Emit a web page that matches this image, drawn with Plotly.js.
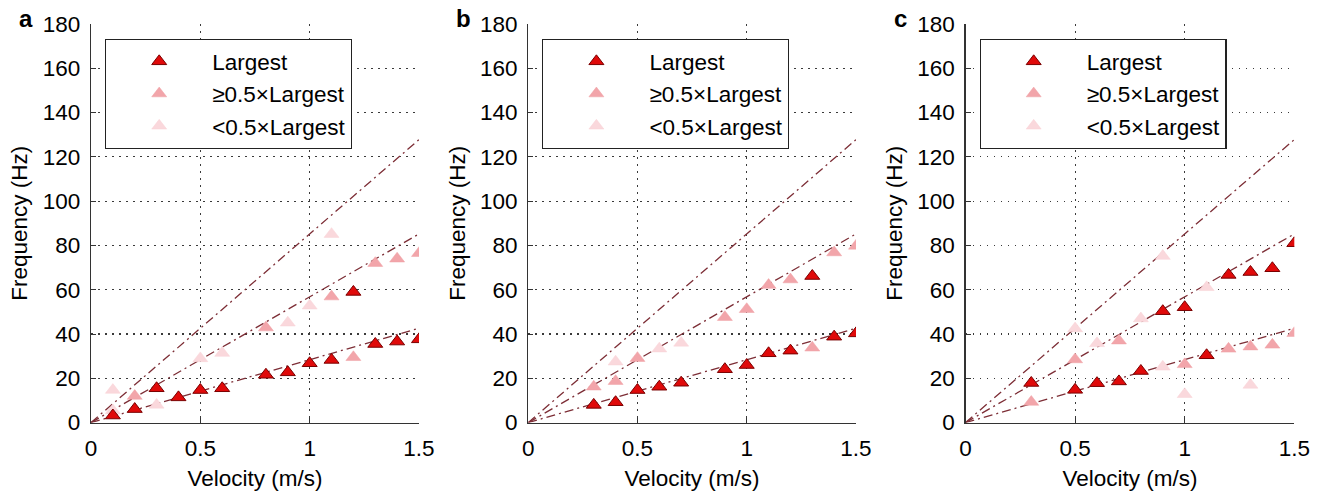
<!DOCTYPE html>
<html>
<head>
<meta charset="utf-8">
<script src="https://cdn.plot.ly/plotly-3.0.1.min.js"></script>
<style>html,body{margin:0;padding:0;background:#fff;}#chart{width:1321px;height:493px;}</style>
</head>
<body>
<div id="chart"></div>
<script>
// ---- data ----
const seriesNames = ['Largest', '\u22650.5\u00d7Largest', '<0.5\u00d7Largest'];
const panelLabels = ['a', 'b', 'c'];
const xTickVals = [0, 0.5, 1, 1.5];
const yTickVals = [0, 20, 40, 60, 80, 100, 120, 140, 160, 180];

// fitted harmonic lines (value at v = 0 and v = 1.5)
const fitX = [0, 1.5];
const fitEndY = [42.6, 85.2, 127.8];

// panel a
const aLargestX = [0.1, 0.2, 0.3, 0.4, 0.5, 0.6, 0.8, 0.9, 1.0, 1.1, 1.2, 1.3, 1.4, 1.5];
const aLargestY = [3.2, 6.1, 15.5, 11.4, 14.7, 15.5, 21.6, 22.7, 26.8, 28.3, 59.0, 35.5, 36.6, 37.6];
const aHalfX = [0.2, 0.8, 1.1, 1.2, 1.3, 1.4, 1.5];
const aHalfY = [12.0, 42.9, 56.9, 29.5, 72.0, 74.0, 76.5];
const aSmallX = [0.1, 0.1, 0.3, 0.5, 0.6, 0.9, 1.0, 1.1];
const aSmallY = [14.7, 5.5, 8.0, 29.0, 31.4, 45.1, 52.8, 85.1];

// panel b
const bLargestX = [0.3, 0.4, 0.5, 0.6, 0.7, 0.9, 1.0, 1.1, 1.2, 1.3, 1.4, 1.5];
const bLargestY = [8.0, 9.2, 14.7, 16.2, 18.0, 24.1, 26.0, 31.3, 32.5, 66.2, 38.8, 40.3];
const bHalfX = [0.3, 0.4, 0.5, 0.9, 1.0, 1.1, 1.2, 1.3, 1.4, 1.5];
const bHalfY = [16.2, 18.7, 29.1, 47.6, 51.2, 62.1, 64.6, 33.8, 76.8, 79.8];
const bSmallX = [0.4, 0.6, 0.7];
const bSmallY = [27.5, 33.4, 36.0];

// panel c
const cLargestX = [0.3, 0.5, 0.6, 0.7, 0.8, 0.9, 1.0, 1.1, 1.2, 1.3, 1.4, 1.5];
const cLargestY = [17.9, 14.8, 17.8, 18.6, 23.3, 50.3, 52.1, 30.4, 66.7, 68.0, 69.7, 81.0];
const cHalfX = [0.3, 0.5, 0.7, 1.0, 1.2, 1.3, 1.4, 1.5];
const cHalfY = [9.3, 28.5, 37.0, 26.3, 33.3, 34.3, 35.1, 40.4];
const cSmallX = [0.5, 0.6, 0.8, 0.9, 0.9, 1.0, 1.1, 1.3];
const cSmallY = [42.5, 35.8, 47.0, 75.2, 25.2, 12.8, 61.1, 17.0];

// ---- styling ----
const FONT = 'Liberation Sans, Arial, Helvetica, sans-serif';
const FS = 22.5;
const W = 1321, H = 493;
const markerStyles = [
  {color: '#e00a0a', line: {color: '#7a0000', width: 1}},
  {color: '#f2a5aa', line: {color: '#eea0a5', width: 0.5}},
  {color: '#fad8dc', line: {color: '#f8d2d6', width: 0.5}}
];
const lineColor = '#7d2e36';
const xPix = [[91, 419], [528.2, 856], [965.5, 1294.3]];
const yPix = [24, 422.6];

const panelData = [
  [[aLargestX, aLargestY], [aHalfX, aHalfY], [aSmallX, aSmallY]],
  [[bLargestX, bLargestY], [bHalfX, bHalfY], [bSmallX, bSmallY]],
  [[cLargestX, cLargestY], [cHalfX, cHalfY], [cSmallX, cSmallY]]
];

const traces = [];
const layout = {
  width: W, height: H,
  margin: {l: 0, r: 0, t: 0, b: 0},
  paper_bgcolor: '#fff', plot_bgcolor: '#fff',
  font: {family: FONT, size: FS, color: '#000'},
  showlegend: true,
  annotations: []
};

panelData.forEach((pd, p) => {
  const sfx = p === 0 ? '' : String(p + 1);
  const xa = 'x' + sfx, ya = 'y' + sfx;
  const legName = 'legend' + sfx;
  // fitted lines
  fitEndY.forEach((yEnd) => {
    traces.push({
      type: 'scatter', mode: 'lines', xaxis: xa, yaxis: ya,
      x: fitX, y: [0, yEnd],
      line: {color: lineColor, width: 1.3, dash: '9px,4px,2px,4px'},
      showlegend: false, hoverinfo: 'skip'
    });
  });
  // markers (draw faint first so Largest sits on top)
  [2, 1, 0].forEach((s) => {
    traces.push({
      type: 'scatter', mode: 'markers', xaxis: xa, yaxis: ya,
      x: pd[s][0], y: pd[s][1],
      name: seriesNames[s],
      legend: legName, legendgroup: 'g' + p + s, legendrank: s + 1,
      marker: Object.assign({symbol: 'triangle-up', size: 13}, markerStyles[s])
    });
  });

  const axisCommon = {
    showline: true, linecolor: '#333', linewidth: 1.2,
    ticks: 'inside', ticklen: 5, tickcolor: '#333', tickwidth: 1,
    showgrid: true, gridcolor: '#3a3a3a', gridwidth: 1.1, griddash: '1.5px,5.5px',
    zeroline: false, mirror: false, fixedrange: true,
    tickfont: {family: FONT, size: FS, color: '#000'}
  };
  layout['xaxis' + sfx] = Object.assign({}, axisCommon, {
    domain: [xPix[p][0] / W, xPix[p][1] / W],
    range: [0, 1.5], tickmode: 'array', tickvals: xTickVals,
    anchor: ya, ticklabelstandoff: 5,
    title: {text: 'Velocity (m/s)', font: {family: FONT, size: FS, color: '#000'}, standoff: 10}
  });
  layout['yaxis' + sfx] = Object.assign({}, axisCommon, {
    domain: [1 - yPix[1] / H, 1 - yPix[0] / H],
    range: [0, 180], tickmode: 'array', tickvals: yTickVals,
    anchor: xa, ticklabelstandoff: 5,
    title: {text: 'Frequency (Hz)', font: {family: FONT, size: FS, color: '#000'}, standoff: 8}
  });
  layout[legName] = {
    x: (xPix[p][0] + 14) / W, y: 1 - 39 / H, xanchor: 'left', yanchor: 'top',
    xref: 'paper', yref: 'paper',
    bgcolor: '#fff', bordercolor: '#222', borderwidth: 1.2,
    font: {family: FONT, size: FS, color: '#000'},
    itemwidth: 96, traceorder: 'grouped', tracegroupgap: 0
  };
  layout.annotations.push({
    text: '<b>' + panelLabels[p] + '</b>', xref: 'paper', yref: 'paper',
    x: (xPix[p][0] - 74) / W, y: 1 - 19 / H, xanchor: 'left', yanchor: 'middle',
    showarrow: false, font: {family: FONT, size: 24, color: '#000'}
  });
});

Plotly.newPlot('chart', traces, layout, {displayModeBar: false, staticPlot: true});
</script>
</body>
</html>
